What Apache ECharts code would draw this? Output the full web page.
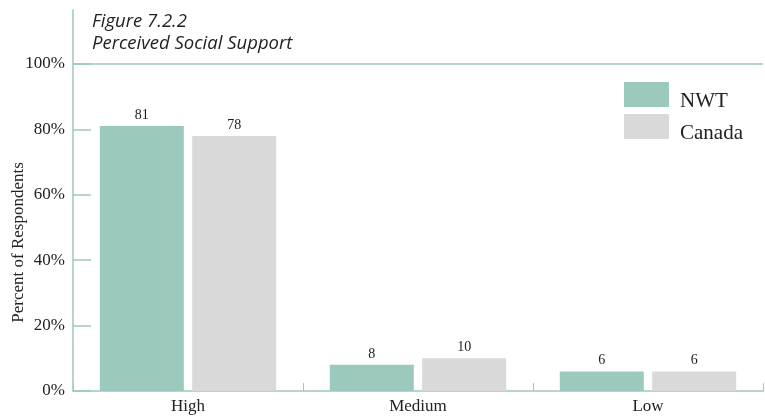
<!DOCTYPE html>
<html>
<head>
<meta charset="utf-8">
<script src="https://cdn.jsdelivr.net/npm/echarts@6/dist/echarts.min.js"></script>
<style>
  html, body { margin: 0; padding: 0; background: #ffffff; }
  #chart { width: 765px; height: 418px; }
</style>
</head>
<body>
<div id="chart"></div>
<script>
// Perceived social support levels, NWT vs Canada (percent of respondents)
const categories = ['High', 'Medium', 'Low'];
const nwtValues = [81, 8, 6];
const canadaValues = [78, 10, 6];
const yTicks = [0, 20, 40, 60, 80, 100];
const seriesNames = ['NWT', 'Canada'];

const tealColor = '#9cc9be';
const greyColor = '#d9d9d9';
const serif = '"Liberation Serif", "Times New Roman", serif';

const chart = echarts.init(document.getElementById('chart'));

chart.setOption({
  animation: false,
  backgroundColor: '#ffffff',
  title: {
    text: 'Figure 7.2.2\nPerceived Social Support',
    left: 92,
    top: 11,
    padding: 0,
    textStyle: {
      fontFamily: '"Open Sans", "DejaVu Sans", sans-serif',
      fontStyle: 'italic',
      fontWeight: 'normal',
      fontSize: 18.5,
      lineHeight: 22,
      color: '#222222'
    }
  },
  legend: {
    data: seriesNames,
    orient: 'vertical',
    left: 624,
    top: 82,
    padding: 0,
    itemWidth: 45,
    itemHeight: 25,
    itemGap: 2,
    icon: 'rect',
    formatter: name => '{t|' + name + '}',
    textStyle: {
      fontFamily: serif,
      fontSize: 21,
      color: '#222222',
      rich: {
        t: {
          fontFamily: serif,
          fontSize: 21,
          color: '#222222',
          padding: [14, 0, 0, 6]
        }
      }
    }
  },
  grid: {
    left: 73,
    right: 2,
    top: 10,
    bottom: 27,
    outerBoundsMode: 'none',
    containLabel: false
  },
  xAxis: {
    type: 'category',
    data: categories,
    axisLine: { lineStyle: { color: tealColor, width: 1.5 } },
    axisTick: {
      show: true,
      inside: true,
      length: 8,
      lineStyle: { color: tealColor, width: 1 }
    },
    axisLabel: {
      fontFamily: serif,
      fontSize: 17,
      color: '#222222',
      margin: 7
    }
  },
  yAxis: {
    type: 'value',
    min: 0,
    max: 116.5,
    name: 'Percent of Respondents',
    nameLocation: 'middle',
    nameGap: 46,
    nameRotate: 90,
    nameMoveOverlap: false,
    nameTextStyle: {
      fontFamily: serif,
      fontSize: 17,
      color: '#222222',
      padding: [0, 84, 0, 0]
    },
    axisLine: { show: true, lineStyle: { color: tealColor, width: 1.5 } },
    axisTick: {
      show: true,
      inside: true,
      length: 18,
      customValues: yTicks,
      lineStyle: { color: tealColor, width: 1.5 }
    },
    axisLabel: {
      customValues: yTicks,
      formatter: v => v + '%',
      fontFamily: serif,
      fontSize: 17,
      color: '#222222',
      margin: 8
    },
    splitLine: { show: false }
  },
  series: [
    {
      name: seriesNames[0],
      type: 'bar',
      data: nwtValues,
      barWidth: 84,
      barGap: '10%',
      itemStyle: { color: tealColor },
      label: {
        show: true,
        position: 'top',
        distance: 4,
        fontFamily: serif,
        fontSize: 14,
        color: '#222222'
      },
      markLine: {
        silent: true,
        symbol: 'none',
        label: { show: false },
        lineStyle: { color: tealColor, type: 'solid', width: 1.5 },
        data: [{ yAxis: 100 }]
      }
    },
    {
      name: seriesNames[1],
      type: 'bar',
      data: canadaValues,
      barWidth: 84,
      itemStyle: { color: greyColor },
      label: {
        show: true,
        position: 'top',
        distance: 4,
        fontFamily: serif,
        fontSize: 14,
        color: '#222222'
      }
    }
  ]
});
</script>
</body>
</html>
